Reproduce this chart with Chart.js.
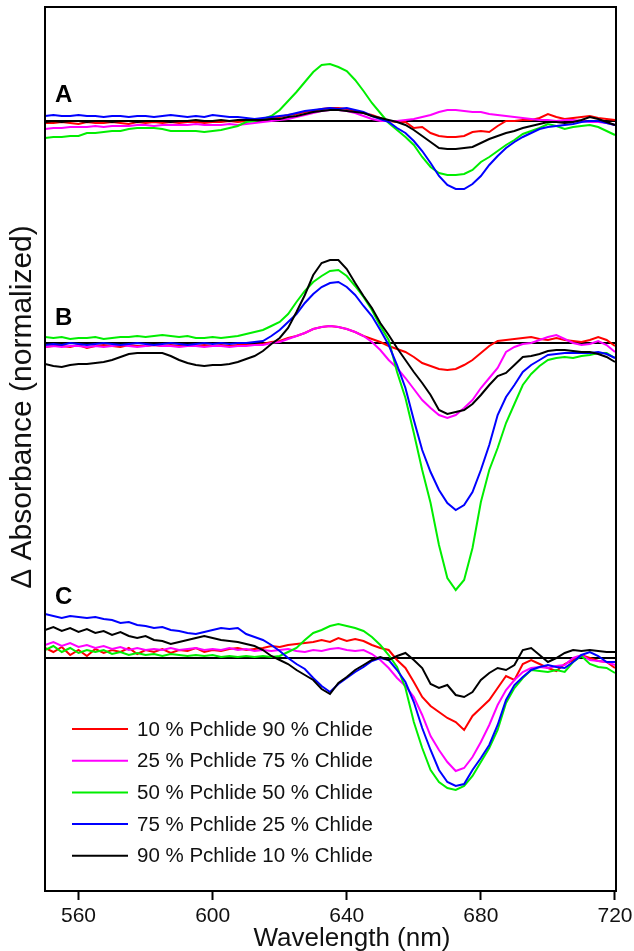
<!DOCTYPE html>
<html>
<head>
<meta charset="utf-8">
<script src="https://cdn.jsdelivr.net/npm/chart.js@4.4.1/dist/chart.umd.min.js"></script>
<style>
  html, body { margin: 0; padding: 0; background: #fff; }
  #wrap { width: 634px; height: 951px; }
</style>
</head>
<body>
<div id="wrap"><canvas id="spectra" width="634" height="951"></canvas></div>
<script>
// wavelength grid (nm) shared by every trace
const wavelengths = [550, 552.5, 555, 557.5, 560, 562.5, 565, 567.5, 570, 572.5,
  575, 577.5, 580, 582.5, 585, 587.5, 590, 592.5, 595, 597.5,
  600, 602.5, 605, 607.5, 610, 612.5, 615, 617.5, 620, 622.5,
  625, 627.5, 630, 632.5, 635, 637.5, 640, 642.5, 645, 647.5,
  650, 652.5, 655, 657.5, 660, 662.5, 665, 667.5, 670, 672.5,
  675, 677.5, 680, 682.5, 685, 687.5, 690, 692.5, 695, 697.5,
  700, 702.5, 705, 707.5, 710, 712.5, 715, 717.5, 720]

const xTicks = [560, 600, 640, 680, 720]

const seriesLabels = ['10 % Pchlide 90 % Chlide', '25 % Pchlide 75 % Chlide',
  '50 % Pchlide 50 % Chlide', '75 % Pchlide 25 % Chlide', '90 % Pchlide 10 % Chlide']
const seriesColors = ['#ff0000', '#ff00ff', '#00ee00', '#0000ff', '#000000']

const panelNames = ['A', 'B', 'C']
// vertical offset of each panel's zero line
const panelOffsets = [-1.14, -3.36, -6.51]

// panel A
const a10 = [-0.02,-0.02,-0.01,-0.02,-0.03,-0.01,-0.02,-0.02,-0.01,-0.02,
  -0.03,-0.01,-0.02,-0.01,-0.02,-0.01,-0.02,-0.01,-0.01,-0.02,
  -0.01,-0.01,0,-0.01,0,0.01,0.01,0.03,0.04,0.06,
  0.07,0.09,0.10,0.12,0.13,0.13,0.12,0.10,0.08,0.06,
  0.03,0,-0.01,-0.01,-0.07,-0.06,-0.12,-0.15,-0.16,-0.16,
  -0.15,-0.11,-0.10,-0.11,-0.05,0,0,0.01,0.01,0.03,
  0.07,0.04,0.02,0.03,0.04,0.05,0.03,0.02,0.01]
const a25 = [-0.08,-0.07,-0.07,-0.06,-0.06,-0.06,-0.05,-0.06,-0.05,-0.05,
  -0.05,-0.04,-0.04,-0.05,-0.04,-0.04,-0.04,-0.04,-0.03,-0.04,
  -0.04,-0.04,-0.03,-0.04,-0.03,-0.02,-0.01,0,0.01,0.02,
  0.04,0.06,0.08,0.10,0.11,0.11,0.10,0.08,0.05,0.02,
  0,0,0,0.01,0.02,0.04,0.06,0.09,0.11,0.11,
  0.10,0.09,0.09,0.07,0.06,0.05,0.04,0.03,0.02,0.01,
  0.01,0,0.01,0.01,0,-0.01,-0.01,-0.02,-0.04]
const a50 = [-0.17,-0.16,-0.16,-0.15,-0.15,-0.12,-0.12,-0.11,-0.10,-0.10,
  -0.08,-0.07,-0.07,-0.07,-0.08,-0.10,-0.10,-0.10,-0.10,-0.11,
  -0.10,-0.09,-0.07,-0.05,-0.01,0,0.02,0.05,0.11,0.20,
  0.29,0.39,0.49,0.56,0.57,0.54,0.50,0.41,0.30,0.18,
  0.08,-0.02,-0.09,-0.16,-0.24,-0.36,-0.46,-0.52,-0.54,-0.54,
  -0.53,-0.49,-0.41,-0.36,-0.30,-0.24,-0.19,-0.13,-0.10,-0.07,
  -0.03,-0.05,-0.08,-0.06,-0.05,-0.04,-0.06,-0.10,-0.14]
const a75 = [0.05,0.06,0.05,0.05,0.06,0.05,0.05,0.04,0.05,0.05,
  0.04,0.05,0.05,0.04,0.05,0.06,0.05,0.04,0.05,0.04,
  0.06,0.05,0.04,0.04,0.03,0.02,0.03,0.04,0.05,0.06,
  0.08,0.10,0.11,0.12,0.13,0.12,0.13,0.11,0.09,0.05,
  0.02,-0.01,-0.07,-0.12,-0.20,-0.30,-0.42,-0.55,-0.64,-0.68,
  -0.68,-0.63,-0.55,-0.44,-0.35,-0.27,-0.21,-0.16,-0.12,-0.08,
  -0.06,-0.05,-0.04,-0.03,-0.01,0,0,-0.02,-0.04]
const a90 = [-0.01,0,-0.01,0,0,-0.01,0,0,-0.01,0,
  0,-0.01,0,0,0,-0.01,0,0,0.01,0,
  0,0.01,0,0.01,0.01,0.01,0.01,0.02,0.02,0.04,
  0.05,0.07,0.09,0.10,0.11,0.11,0.10,0.09,0.08,0.05,
  0.03,0.01,-0.01,-0.04,-0.09,-0.15,-0.21,-0.27,-0.28,-0.28,
  -0.27,-0.26,-0.22,-0.18,-0.15,-0.12,-0.10,-0.07,-0.05,-0.03,
  -0.01,-0.01,-0.02,-0.01,0.01,0.04,0.02,-0.01,-0.04]

// panel B
const b10 = [-0.04,-0.03,-0.03,-0.04,-0.02,-0.05,-0.03,-0.02,-0.03,-0.04,
  -0.02,-0.03,-0.03,-0.02,-0.03,-0.02,-0.03,-0.02,-0.03,-0.02,
  -0.03,-0.02,-0.03,-0.02,-0.02,-0.02,-0.01,0.01,0.02,0.05,
  0.07,0.10,0.14,0.16,0.17,0.16,0.14,0.11,0.07,0.04,
  0.01,-0.03,-0.06,-0.09,-0.14,-0.20,-0.23,-0.26,-0.27,-0.26,
  -0.22,-0.17,-0.10,-0.03,0.02,0.03,0.04,0.05,0.06,0.04,
  0.03,0.05,0.03,0.02,0.01,0.03,0.06,0.03,-0.03]
const b25 = [-0.04,-0.03,-0.04,-0.03,-0.03,-0.04,-0.03,-0.04,-0.03,-0.02,
  -0.03,-0.04,-0.03,-0.02,-0.03,-0.03,-0.04,-0.03,-0.03,-0.04,
  -0.03,-0.03,-0.04,-0.03,-0.03,-0.02,-0.02,0,0.01,0.04,
  0.07,0.10,0.14,0.16,0.17,0.16,0.14,0.11,0.07,0.01,
  -0.07,-0.17,-0.25,-0.35,-0.46,-0.57,-0.65,-0.72,-0.75,-0.72,
  -0.65,-0.57,-0.45,-0.35,-0.25,-0.09,-0.04,-0.01,0,0.03,
  0.06,0.08,0.04,0,-0.02,-0.01,0.02,-0.02,-0.09]
const b50 = [0.06,0.05,0.06,0.04,0.05,0.05,0.06,0.04,0.05,0.06,
  0.06,0.07,0.06,0.07,0.08,0.07,0.06,0.07,0.05,0.05,
  0.06,0.05,0.06,0.07,0.09,0.11,0.13,0.17,0.21,0.29,
  0.41,0.52,0.61,0.67,0.72,0.73,0.67,0.57,0.46,0.33,
  0.17,0.03,-0.29,-0.55,-0.90,-1.27,-1.60,-2.02,-2.35,-2.47,
  -2.37,-2.05,-1.59,-1.27,-1.05,-0.80,-0.61,-0.42,-0.31,-0.23,
  -0.17,-0.15,-0.14,-0.15,-0.13,-0.12,-0.10,-0.10,-0.15]
const b75 = [-0.02,-0.01,-0.02,0,-0.01,-0.02,-0.01,0,-0.01,-0.02,
  -0.01,0,-0.01,-0.02,-0.01,0,-0.01,-0.02,-0.01,0,
  -0.01,0,-0.01,0,0,0.01,0.02,0.07,0.13,0.21,
  0.29,0.40,0.49,0.56,0.60,0.61,0.56,0.48,0.37,0.27,
  0.13,-0.02,-0.22,-0.45,-0.77,-1.07,-1.29,-1.47,-1.60,-1.67,
  -1.62,-1.49,-1.27,-1.02,-0.72,-0.54,-0.42,-0.29,-0.22,-0.17,
  -0.12,-0.11,-0.10,-0.10,-0.10,-0.10,-0.09,-0.11,-0.15]
const b90 = [-0.21,-0.23,-0.24,-0.22,-0.21,-0.21,-0.20,-0.19,-0.17,-0.14,
  -0.11,-0.10,-0.10,-0.10,-0.10,-0.13,-0.17,-0.20,-0.22,-0.23,
  -0.22,-0.22,-0.21,-0.19,-0.16,-0.13,-0.08,-0.01,0.05,0.15,
  0.31,0.48,0.68,0.80,0.83,0.83,0.74,0.60,0.47,0.35,
  0.20,0.08,-0.05,-0.17,-0.29,-0.40,-0.52,-0.67,-0.71,-0.69,
  -0.67,-0.61,-0.52,-0.42,-0.33,-0.30,-0.22,-0.14,-0.13,-0.11,
  -0.08,-0.07,-0.07,-0.08,-0.09,-0.09,-0.11,-0.14,-0.19]

// panel C
const c10 = [0.10,0.06,0.11,0.03,0.08,0.02,0.09,0.05,0.08,0.06,
  0.10,0.04,0.08,0.06,0.09,0.05,0.08,0.07,0.10,0.06,
  0.08,0.07,0.09,0.10,0.08,0.09,0.10,0.12,0.11,0.13,
  0.14,0.15,0.16,0.18,0.16,0.20,0.17,0.19,0.17,0.13,
  0.10,0.08,-0.02,-0.10,-0.24,-0.39,-0.48,-0.54,-0.60,-0.64,
  -0.72,-0.58,-0.50,-0.42,-0.30,-0.18,-0.22,-0.06,-0.02,-0.06,
  -0.10,-0.13,-0.06,-0.02,0.03,0,-0.03,-0.04,-0.10]
const c25 = [0.13,0.16,0.12,0.15,0.11,0.13,0.10,0.12,0.09,0.11,
  0.08,0.10,0.08,0.09,0.08,0.10,0.08,0.09,0.10,0.08,
  0.09,0.08,0.10,0.08,0.09,0.07,0.08,0.07,0.08,0.09,
  0.07,0.06,0.08,0.07,0.09,0.10,0.08,0.07,0.08,0.04,
  -0.02,-0.10,-0.20,-0.28,-0.39,-0.57,-0.78,-0.92,-1.04,-1.13,
  -1.10,-0.99,-0.84,-0.67,-0.47,-0.32,-0.22,-0.14,-0.10,-0.09,
  -0.10,-0.08,-0.07,0,0.03,-0.02,-0.03,-0.04,-0.07]
const c50 = [0.08,0.12,0.06,0.10,0.05,0.08,0.06,0.08,0.04,0.06,
  0.03,0.05,0.03,0.04,0.02,0.04,0.03,0.02,0.03,0.02,
  0.03,0.01,0.02,0.01,0.02,0.01,0.02,0.01,0.02,0.06,
  0.10,0.18,0.25,0.28,0.32,0.34,0.32,0.30,0.27,0.21,
  0.13,0.03,-0.09,-0.30,-0.64,-0.90,-1.12,-1.24,-1.30,-1.32,
  -1.28,-1.18,-1.04,-0.90,-0.72,-0.45,-0.30,-0.20,-0.12,-0.13,
  -0.14,-0.12,-0.14,-0.04,0.02,-0.06,-0.09,-0.10,-0.15]
const c75 = [0.44,0.42,0.40,0.42,0.41,0.40,0.41,0.39,0.38,0.35,
  0.36,0.33,0.32,0.30,0.31,0.28,0.27,0.25,0.24,0.26,
  0.28,0.30,0.29,0.30,0.24,0.21,0.18,0.13,0.07,0,
  -0.06,-0.11,-0.20,-0.28,-0.34,-0.26,-0.20,-0.14,-0.09,-0.03,
  0,-0.02,-0.12,-0.24,-0.44,-0.70,-0.92,-1.12,-1.24,-1.28,
  -1.26,-1.12,-1.00,-0.87,-0.67,-0.42,-0.27,-0.19,-0.12,-0.09,
  -0.07,-0.09,-0.10,-0.04,0.03,0.06,0.02,-0.04,-0.04]
const c90 = [0.28,0.31,0.27,0.30,0.26,0.29,0.25,0.27,0.23,0.26,
  0.22,0.20,0.22,0.18,0.17,0.14,0.16,0.18,0.20,0.22,
  0.20,0.18,0.17,0.16,0.14,0.12,0.08,0.02,-0.02,-0.06,
  -0.12,-0.17,-0.22,-0.31,-0.36,-0.25,-0.19,-0.12,-0.07,-0.02,
  0.01,-0.02,0.02,0.05,-0.02,-0.10,-0.26,-0.30,-0.27,-0.37,
  -0.39,-0.34,-0.22,-0.15,-0.10,-0.12,-0.07,0.08,0.10,0.03,
  -0.04,0,0.05,0.08,0.07,0.08,0.07,0.06,0.06]

const panels = [
  [a10, a25, a50, a75, a90],
  [b10, b25, b50, b75, b90],
  [c10, c25, c50, c75, c90]
]

const xMin = 550
const xMax = 720.3

function toPoints(vals, off) {
  return vals.map((v, i) => ({ x: wavelengths[i], y: v + off }))
}

let datasets = []
for (let p = 0; p < panels.length; p++) {
  // zero line under the traces
  datasets.push({
    label: 'zero ' + panelNames[p],
    data: [{ x: xMin, y: panelOffsets[p] }, { x: xMax, y: panelOffsets[p] }],
    borderColor: '#000',
    borderWidth: 2,
    pointRadius: 0,
    order: 10
  })
  for (let s = 0; s < 5; s++) {
    datasets.push({
      label: seriesLabels[s],
      data: toPoints(panels[p][s], panelOffsets[p]),
      borderColor: seriesColors[s],
      borderWidth: 2,
      pointRadius: 0,
      tension: 0,
      order: 5 - s
    })
  }
}

const font = "'Liberation Sans', Arial, sans-serif"

// frame, panel letters, axis titles and the legend
const decorations = {
  id: 'decorations',
  afterDraw(chart) {
    const ctx = chart.ctx
    const area = chart.chartArea
    const xs = chart.scales.x
    const ys = chart.scales.y
    ctx.save()
    ctx.strokeStyle = '#000'
    ctx.lineWidth = 2
    ctx.strokeRect(area.left, area.top, area.right - area.left, area.bottom - area.top)

    // panel letters
    const lift = [0.26, 0.25, 0.61]
    ctx.fillStyle = '#000'
    ctx.font = 'bold 24px ' + font
    ctx.textBaseline = 'middle'
    ctx.textAlign = 'left'
    for (let p = 0; p < panelNames.length; p++) {
      ctx.fillText(panelNames[p], xs.getPixelForValue(553), ys.getPixelForValue(panelOffsets[p] + lift[p]))
    }

    // x axis title
    ctx.textAlign = 'center'
    ctx.font = '26px ' + font
    ctx.fillStyle = '#111'
    ctx.fillText('Wavelength (nm)', 352, 939)

    // y axis title
    ctx.save()
    ctx.translate(23, 407)
    ctx.rotate(-Math.PI / 2)
    ctx.font = '30px ' + font
    ctx.fillText('\u0394 Absorbance (normalized)', 0, 0)
    ctx.restore()

    // legend
    ctx.font = '20.5px ' + font
    ctx.textAlign = 'left'
    for (let s = 0; s < seriesLabels.length; s++) {
      const y = 729 + s * 31.7
      ctx.strokeStyle = seriesColors[s]
      ctx.lineWidth = 2
      ctx.beginPath()
      ctx.moveTo(72, y)
      ctx.lineTo(128, y)
      ctx.stroke()
      ctx.fillStyle = '#111'
      ctx.fillText(seriesLabels[s], 137, y + 1)
    }
    ctx.restore()
  }
}

const config = {
  type: 'line',
  data: { datasets: datasets },
  options: {
    responsive: false,
    animation: false,
    layout: { padding: { left: 45, right: 18, top: 7, bottom: 25 } },
    plugins: { legend: { display: false }, tooltip: { enabled: false } },
    scales: {
      x: {
        type: 'linear',
        min: xMin,
        max: xMax,
        afterBuildTicks: (axis) => { axis.ticks = xTicks.map(v => ({ value: v })) },
        afterFit: (axis) => {
          // keep the frame where the original has it; labels may overhang
          axis.paddingLeft = 0
          axis.paddingRight = 0
          axis.height = 35
        },
        grid: { display: true, drawOnChartArea: false, drawTicks: true, tickLength: 9, tickWidth: 2, color: '#000' },
        border: { display: true, color: '#000', width: 2 },
        ticks: { color: '#111', font: { family: font, size: 21, lineHeight: 1 }, padding: 6, maxRotation: 0 },
        title: { display: false }
      },
      y: {
        display: false,
        min: -8.84,
        max: 0
      }
    }
  },
  plugins: [decorations]
}

const myChart = new Chart(document.getElementById('spectra'), config)
</script>
</body>
</html>
